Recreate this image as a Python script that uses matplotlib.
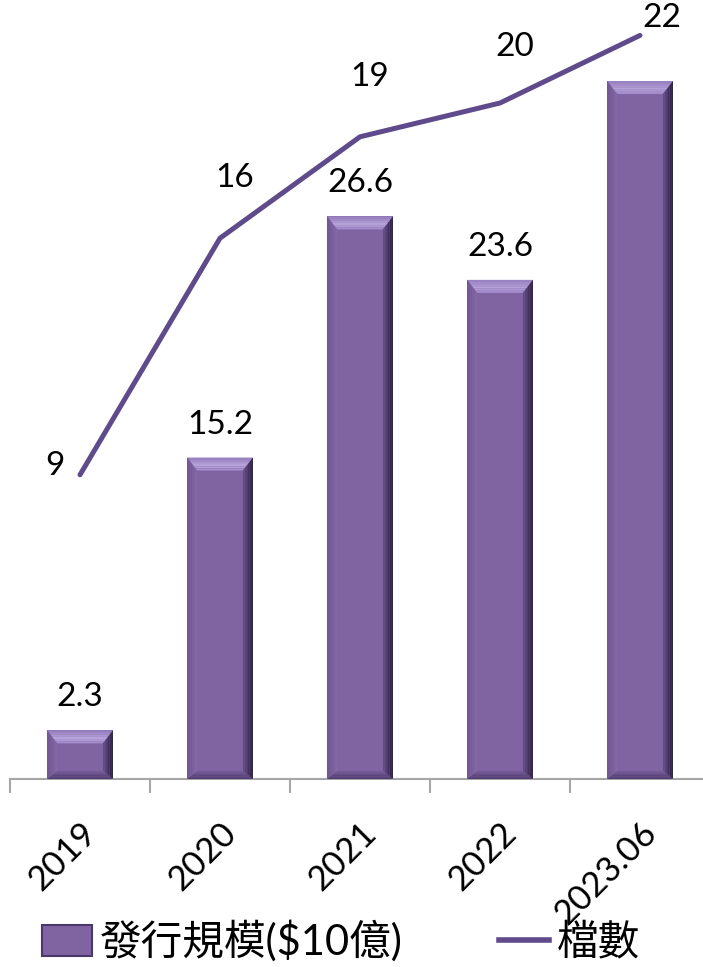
import matplotlib.pyplot as plt
from matplotlib.patches import Polygon, Patch
from matplotlib.lines import Line2D
from matplotlib.colors import to_rgb

# data
periods = ["2019", "2020", "2021", "2022", "2023.06"]
issue_size = [2.3, 15.2, 26.6, 23.6, 33.0]       # 發行規模 ($10億)
size_labels = ["2.3", "15.2", "26.6", "23.6", ""]
fund_count = [9, 16, 19, 20, 22]                 # 檔數

BAR_COLOR = "#8064A2"
LINE_COLOR = "#5F4B8B"
NUM_FONT = ["Lato", "Noto Sans CJK TC", "DejaVu Sans"]


def mix(c1, c2, t):
    a, b = to_rgb(c1), to_rgb(c2)
    return tuple(a[i] + (b[i] - a[i]) * t for i in range(3))


W, H, DPI = 703, 967, 100
fig = plt.figure(figsize=(W / DPI, H / DPI), dpi=DPI)
ax = fig.add_axes([10 / W, (H - 779) / H, 700 / W, 779 / H])
ax2 = ax.twinx()

x = list(range(len(periods)))
bars = ax.bar(x, issue_size, width=0.47, color=BAR_COLOR, zorder=2)
ax.set_xlim(-0.5, len(periods) - 0.5)
ax.set_ylim(0, 779 / 21.15)
ax2.set_ylim(0, 779 / 33.8)

# bevel look on each bar (sizes in pixels converted to data units)
px_x = 1.0 / 140
px_y = 1.0 / 21.15
bx, by, bb = 10 * px_x, 13 * px_y, 8 * px_y
n = 6
for b in bars:
    x0, w, h = b.get_x(), b.get_width(), b.get_height()
    x1 = x0 + w
    t_b = min(by, h / 3)
    b_b = min(bb, h / 4)
    for k in range(n):
        f0, f1 = k / n, (k + 1) / n
        # top bevel: light, brighter toward the middle band
        col = mix("#9A83C2", "#B6A2DA", 1 - abs(f0 - 0.5) * 2)
        ax.add_patch(Polygon([(x0 + bx * f0, h - t_b * f0), (x1 - bx * f0, h - t_b * f0),
                              (x1 - bx * f1, h - t_b * f1), (x0 + bx * f1, h - t_b * f1)],
                             closed=True, color=col, lw=0, zorder=3))
        # right bevel: dark at the edge, fading into the face
        col = mix("#2B1F3D", "#6E5594", f0)
        ax.add_patch(Polygon([(x1 - bx * f0, h - t_b * f0), (x1 - bx * f1, h - t_b * f1),
                              (x1 - bx * f1, b_b * f1), (x1 - bx * f0, b_b * f0)],
                             closed=True, color=col, lw=0, zorder=3))
        # bottom bevel: darker band
        col = mix("#4E3A6E", "#7A5E9C", f0)
        ax.add_patch(Polygon([(x0 + bx * f0, b_b * f0), (x1 - bx * f0, b_b * f0),
                              (x1 - bx * f1, b_b * f1), (x0 + bx * f1, b_b * f1)],
                             closed=True, color=col, lw=0, zorder=3))
        # left bevel: slightly shaded
        col = mix("#6F5592", "#876BAA", f0)
        ax.add_patch(Polygon([(x0 + bx * f0, h - t_b * f0), (x0 + bx * f1, h - t_b * f1),
                              (x0 + bx * f1, b_b * f1), (x0 + bx * f0, b_b * f0)],
                             closed=True, color=col, lw=0, zorder=3))

for b, lab in zip(bars, size_labels):
    if lab:
        ax.annotate(lab, (b.get_x() + b.get_width() / 2, b.get_height()),
                    xytext=(0, 33), textcoords="offset pixels", ha="center", va="center",
                    fontsize=24, family=NUM_FONT, zorder=5)

ax2.plot(x, fund_count, color=LINE_COLOR, lw=3.6, solid_capstyle="round", zorder=4)
count_offsets = [(-25, 9), (15, 60), (10, 60), (15, 56), (22, 17)]
for xi, v, off in zip(x, fund_count, count_offsets):
    ax2.annotate(str(v), (xi, v), xytext=off, textcoords="offset pixels",
                 ha="center", va="center", fontsize=24, family=NUM_FONT)

# axes styling
for a in (ax, ax2):
    for s in ("top", "right", "left"):
        a.spines[s].set_visible(False)
ax2.spines["bottom"].set_visible(False)
ax.spines["bottom"].set_color("#A6A6A6")
ax.spines["bottom"].set_linewidth(1.5)
ax.set_yticks([])
ax2.set_yticks([])
ax.set_xticks(x)
ax.set_xticks([i - 0.5 for i in range(len(periods) + 1)], minor=True)
ax.tick_params(axis="x", which="major", length=0, pad=27)
ax.tick_params(axis="x", which="minor", length=10, width=1.5, color="#A6A6A6")
ax.set_xticklabels(periods, rotation=45, ha="right", va="top", rotation_mode="anchor",
                   fontsize=25, family=NUM_FONT)
ax2.set_zorder(ax.get_zorder() + 1)
ax2.patch.set_visible(False)

handles = [Patch(facecolor=BAR_COLOR, edgecolor="#4A3868", linewidth=1.5),
           Line2D([], [], color=LINE_COLOR, lw=4)]
fig.legend(handles, ["發行規模($10億)", "檔數"], loc="center",
           bbox_to_anchor=(0.485, 0.027), ncol=2, frameon=False,
           prop={"family": NUM_FONT, "size": 30}, handlelength=1.2,
           handleheight=0.75, handletextpad=0.2, columnspacing=2.3, borderpad=0)

fig.savefig("out.png", dpi=DPI)
